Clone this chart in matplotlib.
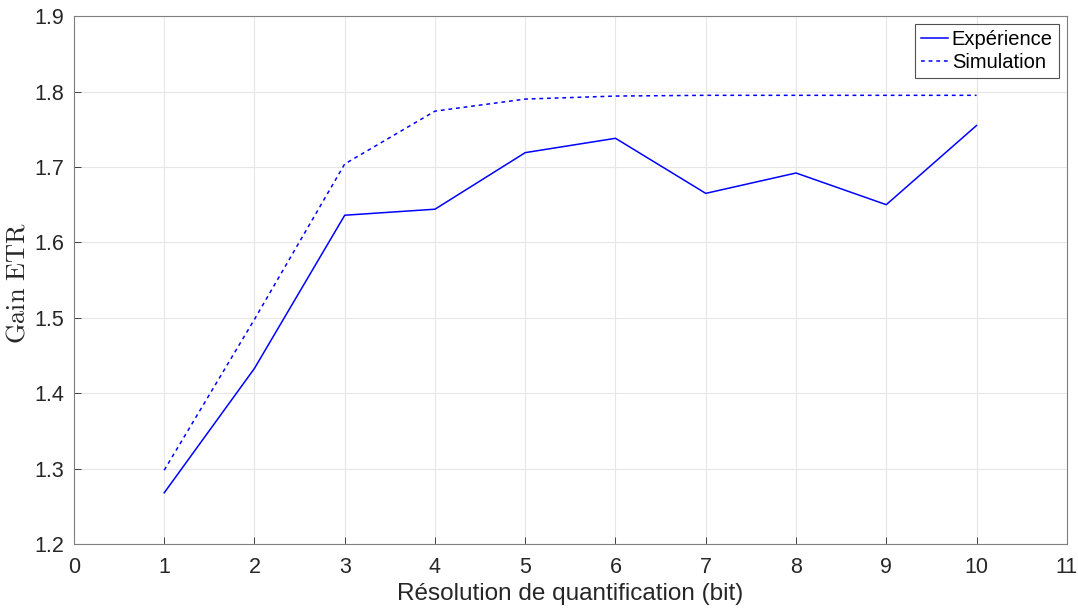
import matplotlib
matplotlib.use('Agg')
import matplotlib.pyplot as plt

resolution = [1, 2, 3, 4, 5, 6, 7, 8, 9, 10]
gain_experience = [1.268, 1.433, 1.636, 1.644, 1.719, 1.738, 1.665, 1.692, 1.650, 1.755]
gain_simulation = [1.298, 1.498, 1.704, 1.774, 1.790, 1.794, 1.795, 1.795, 1.795, 1.795]
x_ticks = list(range(0, 12))
y_ticks = [1.2, 1.3, 1.4, 1.5, 1.6, 1.7, 1.8, 1.9]

plt.rcParams['font.family'] = ['Liberation Sans', 'DejaVu Sans']
plt.rcParams['mathtext.fontset'] = 'cm'

fig = plt.figure(figsize=(10.78, 6.10), dpi=100)
ax = fig.add_axes([0.0686, 0.108, 0.921, 0.8656])

ax.plot(resolution, gain_experience, color='#0000ff', lw=1.1, label='Expérience')
ax.plot(resolution, gain_simulation, color='#0000ff', lw=1.1, ls=(0, (2.5, 2.5)), label='Simulation')

ax.set_xlim(0, 11)
ax.set_ylim(1.2, 1.9)
ax.set_xticks(x_ticks)
ax.set_yticks(y_ticks)
ax.set_yticklabels(['%.1f' % v for v in y_ticks])
ax.grid(True, color='#e6e6e6', lw=0.8)
ax.set_axisbelow(True)
ax.tick_params(direction='in', length=5, colors='#262626', labelsize=15.5, width=0.6)
ax.tick_params(axis='x', pad=9)
ax.tick_params(axis='y', pad=7)
for s in ax.spines.values():
    s.set_color('#7f7f7f')
    s.set_linewidth(0.8)

ax.set_xlabel('Résolution de quantification (bit)', fontsize=17.5, color='#262626')
ax.xaxis.set_label_coords(0.5, -0.074)
ax.set_ylabel(r'$\mathrm{Gain\ ETR}$', fontsize=19, color='#262626')
ax.yaxis.set_label_coords(-0.045, 0.495)

leg = ax.legend(loc='upper right', fontsize=14.5, frameon=True, fancybox=False,
                handlelength=1.3, handletextpad=0.2, borderpad=0.3, labelspacing=0.2,
                borderaxespad=0.4)
leg.get_frame().set_edgecolor('#262626')
leg.get_frame().set_linewidth(0.8)

fig.savefig('out.png', dpi=100)
